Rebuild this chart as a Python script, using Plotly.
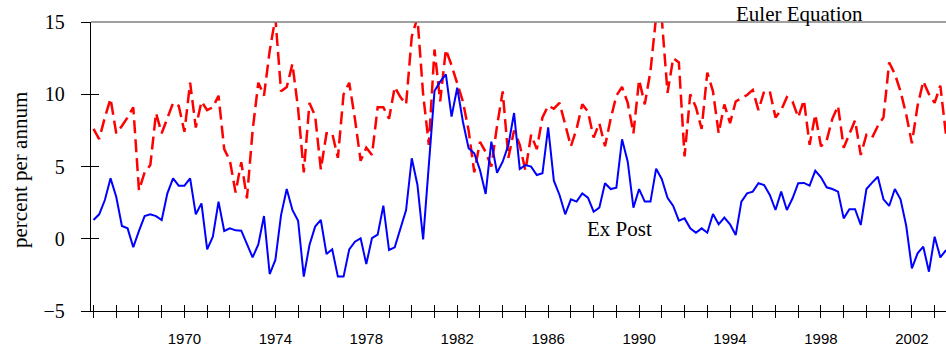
import plotly.graph_objects as go

start_year = 1966
ex_post = [1.30, 1.69, 2.68, 4.18, 2.91, 0.88, 0.72, -0.59, 0.54, 1.57,
           1.69, 1.57, 1.30, 3.14, 4.18, 3.67, 3.67, 4.18, 1.69, 2.45,
           -0.73, 0.14, 2.57, 0.54, 0.72, 0.58, 0.56, -0.43, -1.29, -0.39,
           1.57, -2.44, -1.47, 1.64, 3.44, 1.99, 1.25, -2.62, -0.43, 0.84,
           1.30, -1.06, -0.73, -2.62, -2.62, -0.73, -0.20, 0.03, -1.75, 0.05,
           0.28, 2.29, -0.78, -0.59, 0.72, 1.99, 5.57, 3.72, -0.04, 5.10,
           10.22, 10.87, 11.38, 8.45, 10.45, 8.10, 6.26, 5.91, 4.76, 3.10,
           6.72, 4.57, 5.33, 6.49, 8.70, 4.83, 5.10, 4.99, 4.41, 4.53,
           7.71, 4.02, 3.03, 1.69, 2.73, 2.57, 3.14, 2.84, 1.87, 2.15,
           3.84, 3.44, 3.53, 6.88, 5.33, 2.15, 3.44, 2.57, 2.57, 4.85,
           4.12, 2.84, 2.27, 1.25, 1.41, 0.72, 0.42, 0.72, 0.42, 1.71,
           1.00, 1.46, 1.00, 0.26, 2.57, 3.14, 3.26, 3.84, 3.72, 3.03,
           1.99, 3.26, 1.99, 2.80, 3.84, 3.86, 3.67, 4.71, 4.25, 3.56,
           3.44, 3.26, 1.41, 2.04, 2.04, 0.95, 3.44, 3.88, 4.29, 2.73,
           2.27, 3.44, 2.73, 0.90, -2.05, -1.01, -0.55, -2.28, 0.14, -1.29,
           -0.78]
euler = [7.6, 6.9, 8.4, 9.7, 7.3, 7.8, 8.4, 9.1, 3.35, 4.6,
         5.1, 8.7, 7.3, 8.3, 9.4, 9.2, 7.4, 10.8, 7.7, 9.5,
         8.9, 9.1, 9.9, 6.2, 5.4, 3.2, 5.3, 2.8, 7.5, 10.8,
         9.9, 13.0, 15.3, 10.2, 10.5, 12.1, 9.0, 4.6, 9.4, 8.5,
         4.8, 7.3, 7.3, 5.6, 10.0, 10.8, 8.3, 5.4, 6.3, 5.8,
         9.1, 9.1, 8.3, 10.5, 9.8, 9.3, 14.0, 15.3, 10.0, 6.5,
         13.1, 9.5, 13.1, 12.0, 10.8, 9.5, 7.5, 4.6, 6.7, 6.0,
         5.0, 7.8, 10.2, 5.6, 7.5, 6.5, 4.7, 7.2, 6.2, 8.4,
         9.2, 9.0, 9.4, 7.8, 6.4, 7.6, 9.3, 8.8, 7.0, 8.0,
         6.4, 8.3, 9.9, 10.5, 9.4, 7.3, 11.0, 9.3, 11.6, 15.4,
         15.2, 10.1, 12.5, 12.2, 5.7, 10.0, 9.1, 7.6, 11.5, 10.2,
         7.3, 9.3, 8.0, 9.5, 9.7, 9.95, 10.3, 8.9, 10.2, 10.2,
         8.4, 8.9, 9.8, 9.5, 8.4, 9.6, 6.5, 8.6, 6.4, 6.8,
         8.3, 9.2, 6.3, 7.2, 8.2, 5.8, 7.2, 7.0, 7.8, 8.4,
         12.2, 11.4, 10.2, 8.6, 6.6, 9.2, 10.9, 10.0, 9.4, 10.6,
         7.2]
year_ticks = list(range(1966, 2004))
year_labels = [str(y) if y >= 1970 and (y - 1970) % 4 == 0 else "" for y in year_ticks]
y_ticks = [-5, 0, 5, 10, 15]

quarters = [start_year + q / 4 for q in range(len(ex_post))]

serif = "Liberation Serif, Times New Roman, serif"
x_range = [1965.89, 2003.5]
y_range = [-5, 15]

fig = go.Figure()
fig.add_trace(go.Scatter(x=quarters, y=euler, mode="lines", name="Euler Equation",
                         line=dict(color="#ff0000", width=2.5, dash="13px,6px")))
fig.add_trace(go.Scatter(x=quarters, y=ex_post, mode="lines", name="Ex Post",
                         line=dict(color="#0000ff", width=2)))
fig.add_trace(go.Scatter(x=[], y=[], xaxis="x2", yaxis="y2", showlegend=False, hoverinfo="skip"))

fig.update_layout(
    width=946, height=352,
    margin=dict(l=91, r=0, t=22, b=41, autoexpand=False),
    plot_bgcolor="white", paper_bgcolor="white",
    showlegend=False,
    xaxis=dict(range=x_range, tickvals=year_ticks, ticktext=year_labels,
               ticks="outside", ticklen=6, tickcolor="#000", tickwidth=1,
               showline=True, linecolor="#000", linewidth=1,
               showgrid=False, zeroline=False, automargin=False,
               tickfont=dict(family="Liberation Sans Narrow, Arial Narrow, Liberation Sans, Arial",
                             size=15, color="#000"),
               ticklabelstandoff=8),
    yaxis=dict(range=y_range, tickvals=y_ticks, ticks="outside", ticklen=9,
               tickcolor="#000", tickwidth=1,
               showline=True, linecolor="#000", linewidth=1.3,
               showgrid=False, zeroline=False, automargin=False,
               tickfont=dict(family=serif, size=20, color="#000"),
               ticklabelstandoff=12),
    xaxis2=dict(range=x_range, overlaying="x", anchor="y2", side="bottom",
                tickvals=year_ticks, ticks="inside", ticklen=6, tickcolor="#000",
                showticklabels=False, showline=False, showgrid=False, zeroline=False,
                automargin=False),
    yaxis2=dict(range=y_range, overlaying="y", anchor="x2", side="left",
                tickvals=y_ticks, ticks="inside", ticklen=8, tickcolor="#000",
                showticklabels=False, showline=False, showgrid=False, zeroline=False,
                automargin=False),
    shapes=[dict(type="line", xref="paper", yref="paper", x0=0, x1=1, y0=1, y1=1,
                 line=dict(color="#808080", width=1.3))],
    annotations=[
        dict(text="Euler Equation", xref="paper", yref="paper", x=0.829, y=1.028,
             xanchor="center", yanchor="middle", showarrow=False,
             font=dict(family=serif, size=21, color="#000")),
        dict(text="Ex Post", xref="x", yref="y", x=1989.15, y=0.7,
             xanchor="center", yanchor="middle", showarrow=False,
             font=dict(family=serif, size=21, color="#000")),
        dict(text="percent per annum", xref="paper", yref="paper", x=-0.083, y=0.488,
             xanchor="center", yanchor="middle", showarrow=False, textangle=-90,
             font=dict(family=serif, size=21, color="#000")),
    ],
)

fig.write_html("out.html", config={"displayModeBar": False},
               post_script="document.body.style.margin='0px';document.body.style.padding='0px';")
